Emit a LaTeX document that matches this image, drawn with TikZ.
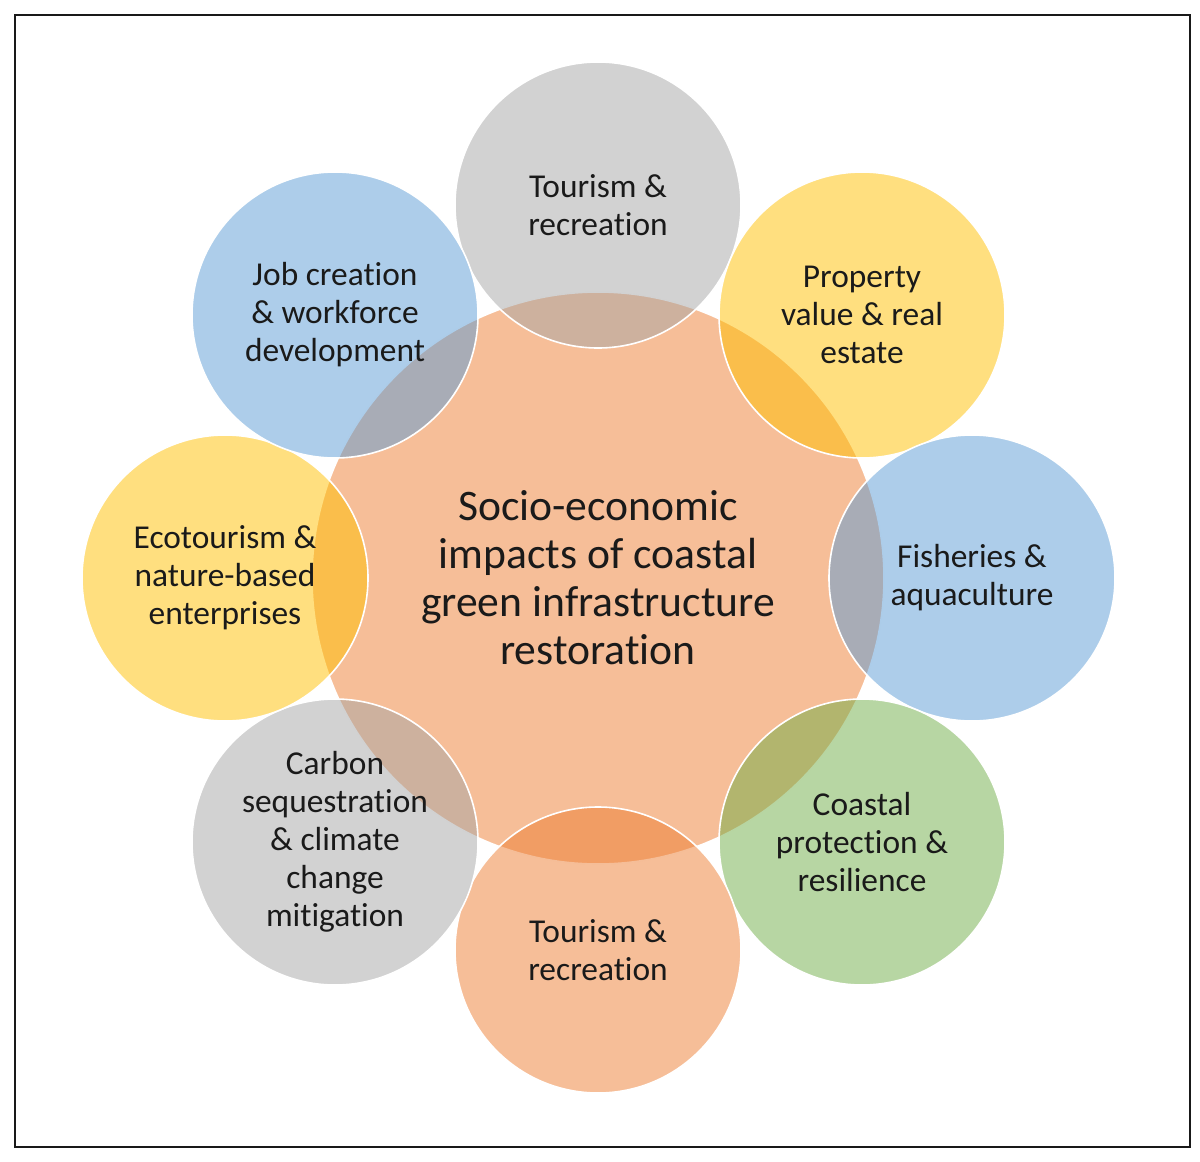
\documentclass[tikz,border=0pt]{standalone}
\usepackage{fontspec}
\setmainfont[Ligatures={NoCommon,NoContextual}]{Carlito}
\definecolor{cgray}{HTML}{A5A5A5}
\definecolor{cblue}{HTML}{5B9BD5}
\definecolor{cyellow}{HTML}{FFC000}
\definecolor{corange}{HTML}{ED7D31}
\definecolor{cgreen}{HTML}{70AD47}
\definecolor{ctext}{HTML}{1A1A1A}
\tikzset{
  bubble/.style={circle, draw=white, line width=0.8pt, fill opacity=0.5, text opacity=1,
    minimum size=143pt, inner sep=0pt, align=center, text=ctext,
    font=\fontsize{16.7}{19}\selectfont},
  hub/.style={circle, draw=white, line width=0.8pt, fill=corange, fill opacity=0.5, text opacity=1,
    minimum size=286pt, inner sep=0pt, align=center, text=ctext,
    font=\fontsize{21.8}{24}\selectfont}
}
\begin{document}
\begin{tikzpicture}[x=0.5pt,y=-0.5pt]
\useasboundingbox (0,0) rectangle (1200,1162);
\node[draw=black!90, line width=1pt, minimum width=587.5pt, minimum height=566pt, inner sep=0pt] (frame) at (602.5,581) {};
\node[hub] (center) at (598,578) {Socio-economic\\impacts of coastal\\green infrastructure\\restoration};
\node[bubble, fill=cgray] (top) at (598,205) {Tourism \&\\recreation};
\node[bubble, fill=cyellow] (tr) at (862,315) {Property\\value \& real\\estate};
\node[bubble, fill=cblue] (right) at (972,578) {Fisheries \&\\aquaculture};
\node[bubble, fill=cgreen] (br) at (862,842) {Coastal\\protection \&\\resilience};
\node[bubble, fill=corange] (bottom) at (598,950) {Tourism \&\\recreation};
\node[bubble, fill=cgray] (bl) at (335,842) {Carbon\\sequestration\\\& climate\\change\\mitigation};
\node[bubble, fill=cyellow] (left) at (225,578) {Ecotourism \&\\nature-based\\enterprises};
\node[bubble, fill=cblue] (tl) at (335,315) {Job creation\\\& workforce\\development};
\end{tikzpicture}
\end{document}
